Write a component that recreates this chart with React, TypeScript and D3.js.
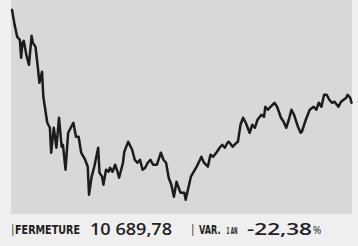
import React from "react";
import * as d3 from "d3";

// trading day (approx.) and closing value
const days = [
  0, 2, 4, 6, 7, 8, 9, 11, 13, 15, 16, 18, 20, 21, 23, 24, 27, 29, 30, 32,
  34, 36, 38, 39, 41, 43, 45, 47, 49, 51, 53, 56, 58, 59, 61, 63, 66, 67, 69, 70,
  72, 74, 75, 77, 79, 81, 82, 85, 86, 89, 92, 94, 96, 98, 100, 102, 104, 106, 108, 111,
  114, 116, 118, 120, 122, 124, 126, 129, 132, 133, 137, 141, 144, 145, 147, 150, 152, 154, 157, 159,
  161, 163, 165, 166, 169, 172, 173, 175, 177, 179, 182, 184, 186, 188, 191, 193, 194, 196, 198, 201,
  203, 206, 208, 210, 212, 214, 216, 219, 221, 222, 225, 228, 231, 233, 235, 237, 239, 241, 243, 245,
  247, 250, 252, 254, 256, 257, 259, 260,
];
const values = [
  13772, 13275, 12877, 12778, 12181, 12678, 12745, 12281, 11949, 12910, 12678, 12546, 11784, 11353, 11717, 10889, 10027, 9861, 9033, 9861,
  9199, 10193, 9232, 9298, 8470, 9696, 9861, 10027, 9563, 9563, 9033, 8801, 8569, 7641, 8238, 8569, 9199, 8370, 8238, 7973,
  8470, 8403, 8536, 8403, 8635, 8370, 8204, 8702, 9066, 9398, 9132, 8801, 8702, 8801, 8470, 8536, 8702, 8801, 8635, 8635,
  9033, 8801, 8702, 8204, 7973, 7575, 8072, 7707, 7707, 7475, 8238, 8536, 8801, 8900, 8702, 8569, 8967, 8900, 9066, 9199,
  9298, 9199, 9364, 9398, 9232, 9364, 9398, 9961, 10193, 10027, 9696, 9961, 9861, 10127, 10292, 10226, 10557, 10458, 10557, 10690,
  10557, 10193, 10060, 9861, 10127, 10458, 10292, 9895, 9696, 9729, 10127, 10458, 10557, 10458, 10690, 10557, 10955, 10955, 10789, 10690,
  10723, 10557, 10723, 10789, 10856, 10955, 10856, 10689.78,
];

const closeLabel = "FERMETURE";
const closeValue = "10 689,78";
const varLabel = "VAR.";
const varPeriod = "1 AN";
const varValue = "-22,38";

const W = 358;
const H = 246;
const panel = { left: 11, right: 352, top: 0, bottom: 214 };

export default function App() {
  const x = d3.scaleLinear().domain([0, 260]).range([12, 351.5]);
  const y = d3.scaleLinear().domain([7000, 14100]).range([panel.bottom, panel.top]);
  const pts = days.map((d, i) => [d, values[i]] as [number, number]);
  const line = d3
    .line<[number, number]>()
    .x((d) => x(d[0]))
    .y((d) => y(d[1]));

  const font = "'Liberation Sans Narrow', 'DejaVu Sans Condensed', 'Roboto', sans-serif";
  const fontNum = "'Open Sans', 'Noto Sans', sans-serif";

  return (
    <svg
      width={W}
      height={H}
      style={{ position: "absolute", left: 0, top: 0, display: "block" }}
    >
      <rect width={W} height={H} fill="#efefef" />
      <rect
        x={panel.left}
        y={panel.top}
        width={panel.right - panel.left}
        height={panel.bottom - panel.top}
        fill="#d8d8d8"
      />
      <path
        d={line(pts) ?? ""}
        fill="none"
        stroke="#1c1c1c"
        strokeWidth={2.5}
        strokeLinejoin="round"
        strokeLinecap="round"
      />

      <rect x={12} y={224} width={1.5} height={12} fill="#888" />
      <text
        x={15}
        y={234}
        fontFamily={font}
        fontWeight="bold"
        fontSize={12}
        fill="#222"
        textLength={65}
        lengthAdjust="spacingAndGlyphs"
      >
        {closeLabel}
      </text>
      <text
        x={90}
        y={234.5}
        fontFamily={fontNum}
        fontWeight={600}
        fontSize={16}
        fill="#222"
        textLength={82}
        lengthAdjust="spacingAndGlyphs"
      >
        {closeValue}
      </text>

      <rect x={192} y={224} width={1.5} height={12} fill="#888" />
      <text
        x={199}
        y={234}
        fontFamily={font}
        fontWeight="bold"
        fontSize={12}
        fill="#222"
        textLength={21.5}
        lengthAdjust="spacingAndGlyphs"
      >
        {varLabel}
      </text>
      <text
        x={226.5}
        y={234}
        fontFamily={font}
        fontWeight="bold"
        fontSize={8}
        fill="#222"
        textLength={11}
        lengthAdjust="spacingAndGlyphs"
      >
        {varPeriod}
      </text>
      <text
        x={247}
        y={234.5}
        fontFamily={fontNum}
        fontWeight={600}
        fontSize={16}
        fill="#222"
        textLength={65}
        lengthAdjust="spacingAndGlyphs"
      >
        {varValue}
      </text>
      <text
        x={313}
        y={234}
        fontFamily={fontNum}
        fontSize={10}
        fill="#222"
      >
        %
      </text>
    </svg>
  );
}
